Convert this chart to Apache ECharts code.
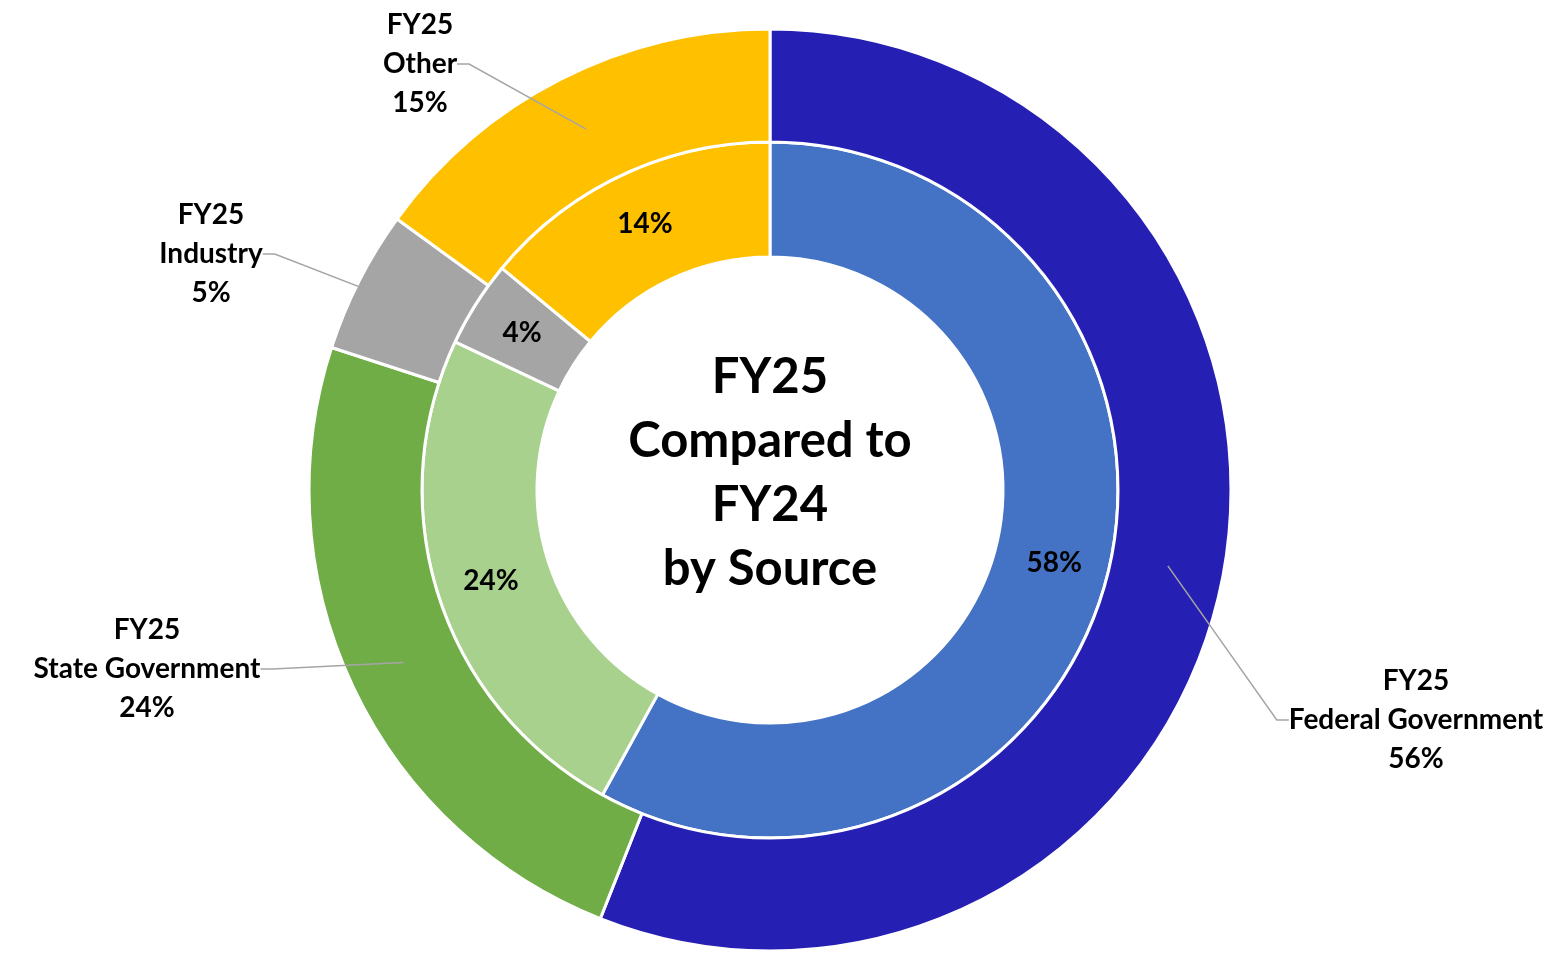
<!DOCTYPE html>
<html>
<head>
<meta charset="utf-8">
<script src="https://cdn.jsdelivr.net/npm/echarts@6/dist/echarts.min.js"></script>
<style>
  html,body{margin:0;padding:0;background:#fff;}
  #chart{width:1563px;height:958px;}
</style>
</head>
<body>
<div id="chart"></div>
<script>
// data
const sources=['Federal Government','State Government','Industry','Other'];
const fy25=[56,24,5,15];   // outer ring
const fy24=[58,24,4,14];   // inner ring
const outerColors=['#261FB3','#70AD47','#A5A5A5','#FFC000'];
const innerColors=['#4472C4','#A9D18E','#A5A5A5','#FFC000'];
// where each outer label sits (text centre)
const labelPos=[[1416,720],[147,669],[211,254],[420,64]];

const FONT='Lato';
const cx=770, cy=490;

let chart=echarts.init(document.getElementById('chart'),null,{renderer:'canvas'});

let option={
  animation:false,
  textStyle:{fontFamily:FONT},
  graphic:[{
    type:'text',
    x:cx,
    y:473,
    style:{
      text:'FY25\nCompared to\nFY24\nby Source',
      fontFamily:FONT,
      fontWeight:'bold',
      fontSize:49,
      lineHeight:64,
      fill:'#000',
      align:'center',
      verticalAlign:'middle'
    }
  }],
  series:[
    {
      // FY24, inner ring
      type:'pie',
      center:[cx,cy],
      radius:[233,348],
      startAngle:90,
      clockwise:true,
      silent:true,
      itemStyle:{borderColor:'#fff',borderWidth:3},
      label:{
        position:'inside',
        formatter:'{c}%',
        color:'#000',
        fontFamily:FONT,
        fontWeight:'bold',
        fontSize:28
      },
      labelLine:{show:false},
      data:fy24.map((v,i)=>({name:sources[i],value:v,itemStyle:{color:innerColors[i]}}))
    },
    {
      // FY25, outer ring
      type:'pie',
      center:[cx,cy],
      radius:[348,461],
      startAngle:90,
      silent:true,
      itemStyle:{borderColor:'#fff',borderWidth:3},
      label:{show:false},
      labelLine:{show:false},
      data:fy25.map((v,i)=>({name:sources[i],value:v,itemStyle:{color:outerColors[i]}}))
    },
    {
      // invisible copy of the outer ring that only carries the labels and leader lines
      type:'pie',
      center:[cx,cy],
      radius:[0,405],
      startAngle:90,
      silent:true,
      z:5,
      itemStyle:{color:'rgba(0,0,0,0)',borderWidth:0},
      label:{
        show:true,
        position:'outside',
        formatter:p=>'{c|FY25}\n{c|'+p.name+'}\n{c|'+p.value+'%}',
        rich:{
          c:{align:'center',fontFamily:FONT,fontWeight:'bold',fontSize:28,lineHeight:39,color:'#000'}
        }
      },
      labelLine:{
        show:true,
        length:20,
        length2:12,
        lineStyle:{color:'#A5A5A5',width:1.5}
      },
      labelLayout:function(params){
        let p=labelPos[params.dataIndex];
        return {x:p[0],y:p[1],align:'center',verticalAlign:'middle',hideOverlap:false};
      },
      data:fy25.map((v,i)=>({name:sources[i],value:v}))
    }
  ]
};
chart.setOption(option);
</script>
</body>
</html>
